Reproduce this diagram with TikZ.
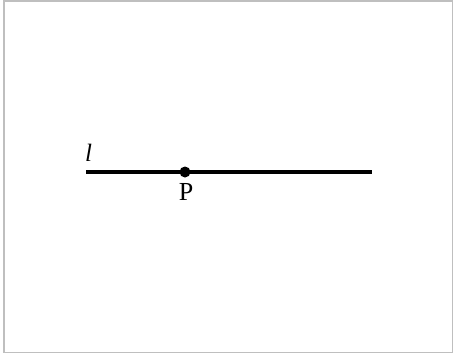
\documentclass[tikz,border=0pt]{standalone}
\usepackage{fontspec}
\setmainfont{Liberation Serif}
\begin{document}
\begin{tikzpicture}[x=1pt,y=-1pt,
  frame/.style={draw=black!25, line width=1.5pt},
  lineseg/.style={line width=3.2pt},
  dotstyle/.style={circle, fill=black, inner sep=0pt, minimum size=11pt},
  lbl/.style={font=\fontsize{26}{26}\selectfont, inner sep=0pt}]
\useasboundingbox (0,0) rectangle (453,354);
\draw[frame] (4,0.75) rectangle (452.25,352.5);
\coordinate (A) at (86,172);
\coordinate (B) at (372,172);
\draw[lineseg] (A) -- (B);
\node[dotstyle] (P) at (185,172) {};
\node[lbl, anchor=base] (Pl) at (186,200) {P};
\node[lbl, anchor=base, font=\fontsize{25}{25}\selectfont] (l) at (88.5,161) {\textit{l}};
\end{tikzpicture}
\end{document}
